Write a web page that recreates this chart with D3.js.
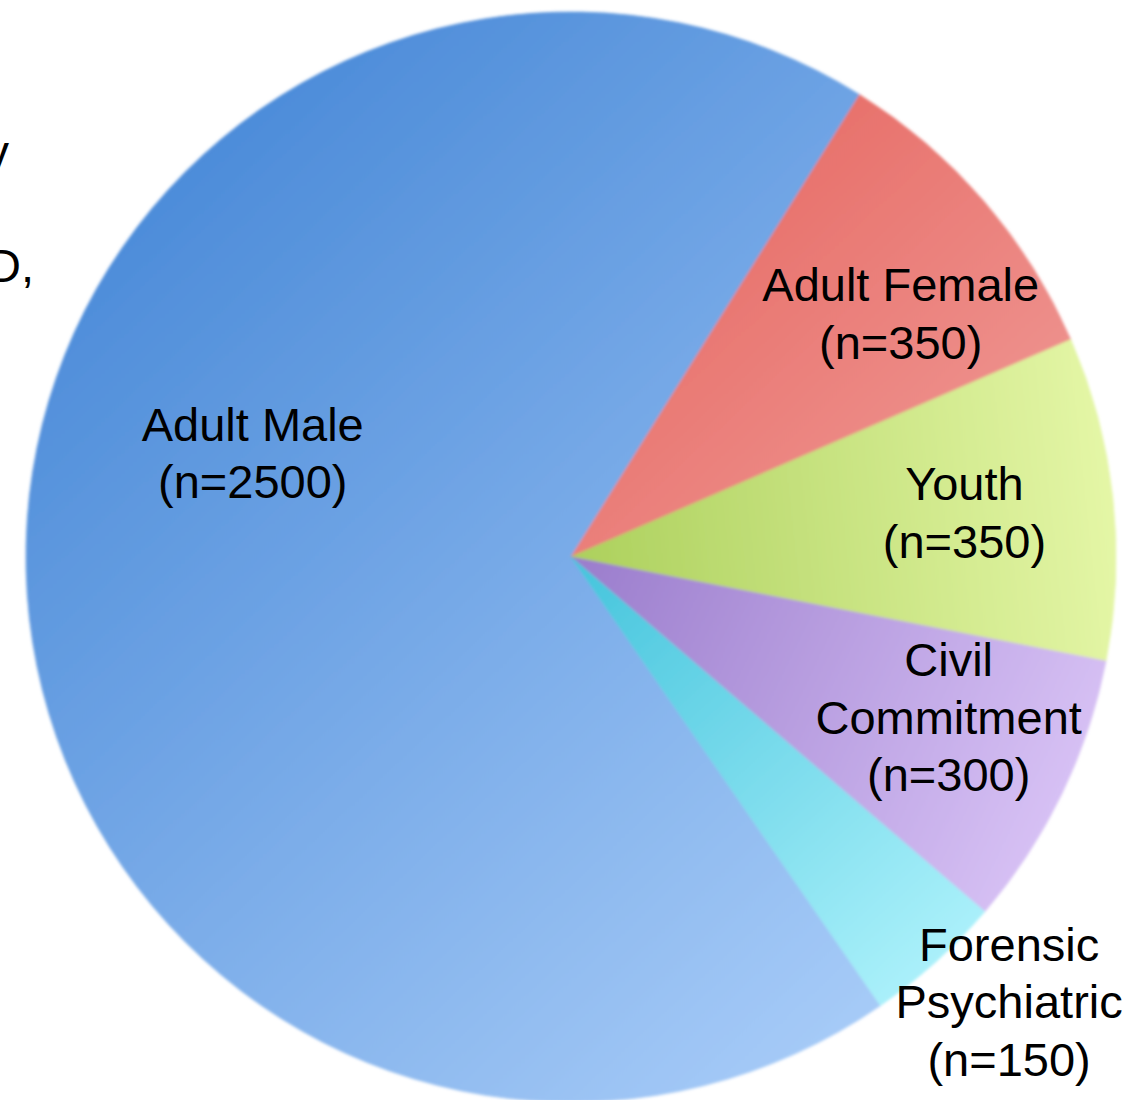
<!DOCTYPE html>
<html>
<head>
<meta charset="utf-8">
<script src="https://cdn.jsdelivr.net/npm/d3@7"></script>
<style>
  body { margin: 0; background: #fff; }
  svg { display: block; }
  text { font-family: "Liberation Sans", Arial, sans-serif; fill: #000; }
</style>
</head>
<body>
<script>
var categories = ["Adult Male", "Adult Female", "Youth", "Civil Commitment", "Forensic Psychiatric"];
var values = [2500, 350, 350, 300, 150];
var labelLines = [
  ["Adult Male", "(n=2500)"],
  ["Adult Female", "(n=350)"],
  ["Youth", "(n=350)"],
  ["Civil", "Commitment", "(n=300)"],
  ["Forensic", "Psychiatric", "(n=150)"]
];
// dark and light shade of each slice
var darkColors = ["#4a8ad8", "#e04a42", "#acd05c", "#9a7ccc", "#44c4dc"];
var lightColors = ["#a8ccf8", "#f4b2b0", "#e4f6a6", "#d6c0f4", "#aaf0fa"];
// shading: "diag" = top-left to bottom-right, "out" = centre to rim
var shading = ["diag", "diag", "out", "out", "out"];

var width = 1141, height = 1100;
var cx = 571, cy = 557, radius = 545;
var fontSize = 47, lineHeight = 57.5;

// label placement: radius and angular nudge (degrees) per slice
var labelRadius = [335, 410, 396, 410, 624];
var labelShift = [19.5, 4.3, -0.3, -2.9, -2.6];

var svg = d3.select("body").append("svg")
  .attr("width", width)
  .attr("height", height);

var defs = svg.append("defs");

defs.append("filter")
  .attr("id", "soft")
  .attr("x", "-5%").attr("y", "-5%")
  .attr("width", "110%").attr("height", "110%")
  .append("feGaussianBlur")
  .attr("stdDeviation", 1.8);

// slice order clockwise from Adult Male boundary
var startDeg = 145.4;
var pie = d3.pie()
  .sort(null)
  .value(function(d) { return d; })
  .startAngle(startDeg * Math.PI / 180)
  .endAngle(startDeg * Math.PI / 180 + 2 * Math.PI);

var arcs = pie(values);

// gradient coords are relative to the pie centre (paths sit in a translated group)
arcs.forEach(function(d, i) {
  var g = defs.append("linearGradient")
    .attr("id", "grad" + i)
    .attr("gradientUnits", "userSpaceOnUse");
  if (shading[i] == "out") {
    var a = (d.startAngle + d.endAngle) / 2;
    g.attr("x1", 0).attr("y1", 0)
     .attr("x2", radius * Math.sin(a)).attr("y2", -radius * Math.cos(a));
  } else {
    g.attr("x1", -400).attr("y1", -420)
     .attr("x2", 380).attr("y2", 420);
  }
  g.append("stop").attr("offset", "0%").attr("stop-color", darkColors[i]);
  g.append("stop").attr("offset", "100%").attr("stop-color", lightColors[i]);
});

var arc = d3.arc()
  .innerRadius(0)
  .outerRadius(radius);

var chartGroup = svg.append("g")
  .attr("transform", "translate(" + cx + "," + cy + ")");

chartGroup.append("g")
  .attr("filter", "url(#soft)")
  .selectAll("path")
  .data(arcs)
  .enter()
  .append("path")
  .attr("d", arc)
  .attr("fill", function(d, i) { return "url(#grad" + i + ")"; })
  .attr("stroke", function(d, i) { return "url(#grad" + i + ")"; })
  .attr("stroke-width", 0.8);

var labels = chartGroup.selectAll("text.label")
  .data(arcs)
  .enter()
  .append("text")
  .attr("class", "label")
  .attr("text-anchor", "middle")
  .style("font-size", fontSize + "px")
  .attr("transform", function(d, i) {
    var a = (d.startAngle + d.endAngle) / 2 + labelShift[i] * Math.PI / 180;
    var r = labelRadius[i];
    var x = r * Math.sin(a);
    var y = -r * Math.cos(a);
    return "translate(" + x + "," + y + ")";
  });

labels.each(function(d, i) {
  var lines = labelLines[i];
  var n = lines.length;
  var firstBase = -((n - 1) * lineHeight) / 2 + fontSize * 0.36;
  d3.select(this).selectAll("tspan")
    .data(lines)
    .enter()
    .append("tspan")
    .attr("x", 0)
    .attr("y", function(t, j) { return firstBase + j * lineHeight; })
    .text(function(t) { return t; });
});

// fragments of slide text cut off at the left edge (as in the reference)
svg.append("text")
  .attr("x", 9).attr("y", 168)
  .attr("text-anchor", "end")
  .style("font-size", fontSize + "px")
  .text("y");

svg.append("text")
  .attr("x", 34).attr("y", 282)
  .attr("text-anchor", "end")
  .style("font-size", fontSize + "px")
  .text("D,");
</script>
</body>
</html>
